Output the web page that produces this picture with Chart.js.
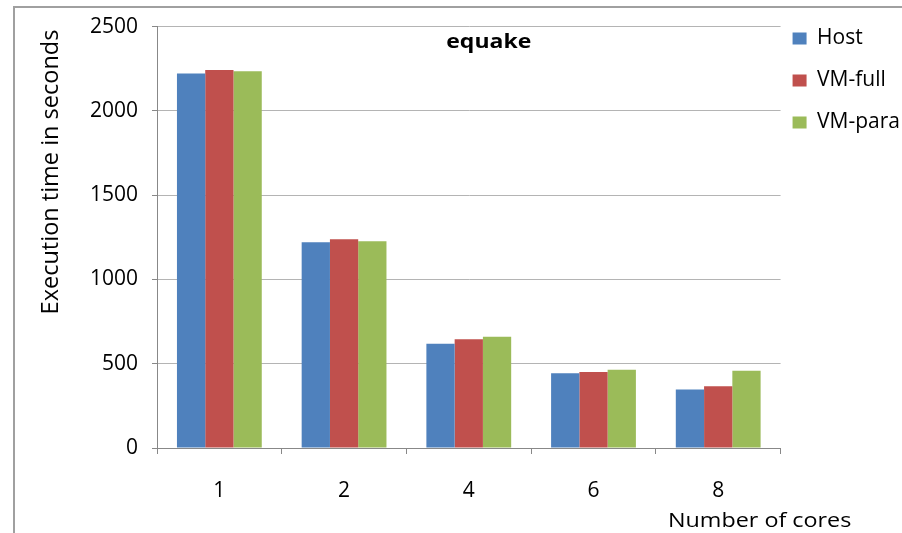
<!DOCTYPE html>
<html>
<head>
<meta charset="utf-8">
<script src="https://cdn.jsdelivr.net/npm/chart.js@4/dist/chart.umd.min.js"></script>
<style>
  html, body { margin: 0; padding: 0; background: #fff; }
  #wrap { position: relative; width: 902px; height: 533px; overflow: hidden; }
  #frame { position: absolute; left: 13px; top: 6px; width: 1000px; height: 1000px; border-left: 2px solid #a0a0a0; border-top: 2px solid #a0a0a0; }
  canvas { position: absolute; left: 0; top: 0; }
</style>
</head>
<body>
<div id="wrap">
  <div id="frame"></div>
  <canvas id="grafico" width="902" height="533"></canvas>
</div>
<script>
// dados
const cores = ['1', '2', '4', '6', '8'];
const host = [2222, 1220, 618, 443, 347];
const vmFull = [2242, 1238, 645, 451, 367];
const vmPara = [2235, 1226, 660, 464, 458];
const yTicks = [0, 500, 1000, 1500, 2000, 2500];

const FONTE = '"Open Sans", "Noto Sans", sans-serif';
const LEG_PAD = 21;

// texto esticado na horizontal, como no original
function textoLargo(ctx, txt, x, y, esc) {
  ctx.save();
  ctx.translate(x, y);
  ctx.scale(esc, 1);
  ctx.fillText(txt, 0, 0);
  ctx.restore();
}

const textos = {
  id: 'textos',
  afterLayout(chart) {
    // legenda encostada ao topo, como no Excel
    const l = chart.legend;
    const dx = (chart.chartArea.right + 12 - LEG_PAD) - l.left;
    const dy = -17;
    l.left += dx; l.right += dx;
    l.top += dy; l.bottom += dy;
  },
  afterDraw(chart) {
    const ctx = chart.ctx;
    const a = chart.chartArea;
    ctx.save();
    ctx.fillStyle = '#000';
    ctx.font = 'bold 20px ' + FONTE;
    ctx.textAlign = 'center';
    ctx.textBaseline = 'middle';
    textoLargo(ctx, 'equake', a.left + (a.right - a.left) * 0.532, 42, 1.15);

    ctx.font = '20px ' + FONTE;
    ctx.textAlign = 'left';
    ctx.textBaseline = 'alphabetic';
    textoLargo(ctx, 'Number of cores', 668, 527, 1.166);

    ctx.font = '23.5px ' + FONTE;
    ctx.translate(51, 172);
    ctx.rotate(-Math.PI / 2);
    ctx.textAlign = 'center';
    ctx.textBaseline = 'middle';
    ctx.fillText('Execution time in seconds', 0, 0);
    ctx.restore();
  }
};

const ctx = document.getElementById('grafico').getContext('2d');
new Chart(ctx, {
  type: 'bar',
  data: {
    labels: cores,
    datasets: [
      { label: 'Host', data: host, backgroundColor: '#4F81BD' },
      { label: 'VM-full', data: vmFull, backgroundColor: '#C0504D' },
      { label: 'VM-para', data: vmPara, backgroundColor: '#9BBB59' }
    ]
  },
  options: {
    responsive: false,
    animation: false,
    devicePixelRatio: 1,
    layout: { padding: { top: 24, left: 0, right: -17, bottom: 0 } },
    datasets: { bar: { categoryPercentage: 0.68, barPercentage: 1.0, borderWidth: 0 } },
    plugins: {
      title: { display: false },
      tooltip: { enabled: false },
      legend: {
        position: 'right',
        align: 'start',
        labels: {
          boxWidth: 14,
          boxHeight: 12,
          padding: LEG_PAD,
          color: '#000',
          font: { family: FONTE, size: 21 }
        }
      }
    },
    scales: {
      x: {
        offset: true,
        grid: { drawOnChartArea: false, offset: true, tickLength: 6, tickColor: '#888' },
        border: { color: '#888', width: 1 },
        ticks: { color: '#000', padding: 24, font: { family: FONTE, size: 21 } },
        afterFit(scale) { scale.height = 85; }
      },
      y: {
        min: 0,
        max: 2500,
        afterBuildTicks(scale) { scale.ticks = yTicks.map(v => ({ value: v })); },
        grid: { color: '#b4b4b4', tickLength: 5, tickColor: '#888' },
        border: { color: '#888', width: 1 },
        ticks: {
          color: '#000',
          padding: 14,
          font: { family: FONTE, size: 21 },
          callback: v => String(v)
        },
        afterFit(scale) { scale.width = 157; }
      }
    }
  },
  plugins: [textos]
});
</script>
</body>
</html>
